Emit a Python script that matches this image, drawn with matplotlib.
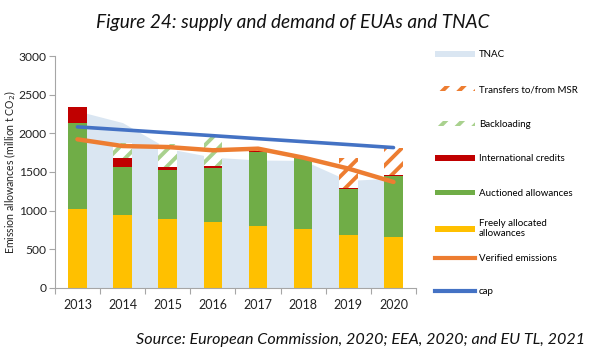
import numpy as np
import matplotlib
matplotlib.use('Agg')
from matplotlib import pyplot as plt
from matplotlib.patches import Patch
from matplotlib.lines import Line2D

years = ['2013', '2014', '2015', '2016', '2017', '2018', '2019', '2020']
free_alloc = [1018, 949, 888, 848, 807, 759, 685, 660]
auctioned = [1112, 616, 634, 709, 955, 924, 600, 784]
intl_credits = [216, 116, 39, 25, 8, 3, 10, 12]
backloading = [0, 199, 297, 365, 0, 0, 0, 0]
msr_transfers = [0, 0, 0, 0, 0, 0, 391, 355]
tnac = [2290, 2139, 1804, 1692, 1655, 1650, 1390, 1422]
verified = [1923, 1836, 1823, 1781, 1802, 1686, 1544, 1371]
cap = [2084, 2046, 2008, 1970, 1931, 1893, 1855, 1816]

c_free = '#FFC000'
c_auct = '#70AD47'
c_intl = '#C00000'
c_back = '#A9D18E'
c_msr = '#ED7D31'
c_tnac = '#DAE6F2'
c_cap = '#4472C4'

plt.rcParams['font.family'] = ['Lato', 'DejaVu Sans']
plt.rcParams['hatch.linewidth'] = 2.8

fig = plt.figure(figsize=(6.03, 3.55), dpi=100)
ax = fig.add_axes([0.091, 0.189, 0.599, 0.653])

x = np.arange(len(years))
w = 0.41

ax.fill_between(x, 0, tnac, color=c_tnac, lw=0, zorder=1)

bottom = np.zeros(len(years))
ax.bar(x, free_alloc, w, bottom=bottom, color=c_free, lw=0, zorder=2)
bottom += free_alloc
ax.bar(x, auctioned, w, bottom=bottom, color=c_auct, lw=0, zorder=2)
bottom += auctioned
ax.bar(x, intl_credits, w, bottom=bottom, color=c_intl, lw=0, zorder=2)
bottom += intl_credits
ax.bar(x, backloading, w, bottom=bottom, facecolor='white', edgecolor=c_back,
       hatch='//', lw=0, zorder=2)
bottom += backloading
ax.bar(x, msr_transfers, w, bottom=bottom, facecolor='white', edgecolor=c_msr,
       hatch='//', lw=0, zorder=2)

ax.plot(x, verified, color=c_msr, lw=3.2, solid_capstyle='round', zorder=3)
ax.plot(x, cap, color=c_cap, lw=2.6, solid_capstyle='round', zorder=3)

ax.set_xlim(-0.5, 7.5)
ax.set_ylim(0, 3000)
ax.set_yticks(range(0, 3001, 500))
ax.set_xticks(x)
ax.set_xticklabels(years)
ax.set_xticks(np.arange(-0.5, 7.6, 1), minor=True)
ax.tick_params(axis='x', which='major', length=0, pad=8, labelsize=9, colors='#222222')
ax.tick_params(axis='x', which='minor', length=4, color='#A6A6A6', width=0.8)
ax.tick_params(axis='y', length=4, color='#A6A6A6', width=0.8, labelsize=8.7,
               labelcolor='#222222', pad=2)
for s in ['top', 'right']:
    ax.spines[s].set_visible(False)
for s in ['left', 'bottom']:
    ax.spines[s].set_color('#A6A6A6')
    ax.spines[s].set_linewidth(0.8)
ax.set_ylabel('Emission allowances (million t CO$_2$)', fontsize=7.6, color='#222222')
ax.yaxis.set_label_coords(-0.103, 0.5)

# legend in three blocks so the two-line entry does not push the others down
bar_handles = [
    Patch(facecolor=c_tnac, lw=0),
    Patch(facecolor='white', edgecolor=c_msr, hatch='//', lw=0),
    Patch(facecolor='white', edgecolor=c_back, hatch='//', lw=0),
    Patch(facecolor=c_intl, lw=0),
    Patch(facecolor=c_auct, lw=0),
]
bar_labels = ['TNAC', 'Transfers to/from MSR', 'Backloading', 'International credits',
              'Auctioned allowances']
free_handle = [Patch(facecolor=c_free, lw=0)]
free_label = ['Freely allocated\nallowances']
line_handles = [Line2D([], [], color=c_msr, lw=3), Line2D([], [], color=c_cap, lw=3)]
line_labels = ['Verified emissions', 'cap']

leg_kw = dict(frameon=False, fontsize=7, handlelength=4.1, handleheight=0.5,
              handletextpad=0.4, borderaxespad=0, borderpad=0)
leg1 = fig.legend(bar_handles, bar_labels, loc='upper left', bbox_to_anchor=(0.722, 0.858),
                  labelspacing=2.64, **leg_kw)
leg2 = fig.legend(free_handle, free_label, loc='upper left', bbox_to_anchor=(0.722, 0.383),
                  **leg_kw)
leg3 = fig.legend(line_handles, line_labels, loc='upper left', bbox_to_anchor=(0.722, 0.284),
                  labelspacing=2.5, **leg_kw)

fig.text(0.485, 0.938, 'Figure 24: supply and demand of EUAs and TNAC', ha='center',
         va='center', fontsize=13.7, style='italic', color='#111111')
fig.text(0.598, 0.043, 'Source: European Commission, 2020; EEA, 2020; and EU TL, 2021',
         ha='center', va='center', fontsize=11.6, style='italic', color='#111111')

fig.savefig('out.png', dpi=100)
